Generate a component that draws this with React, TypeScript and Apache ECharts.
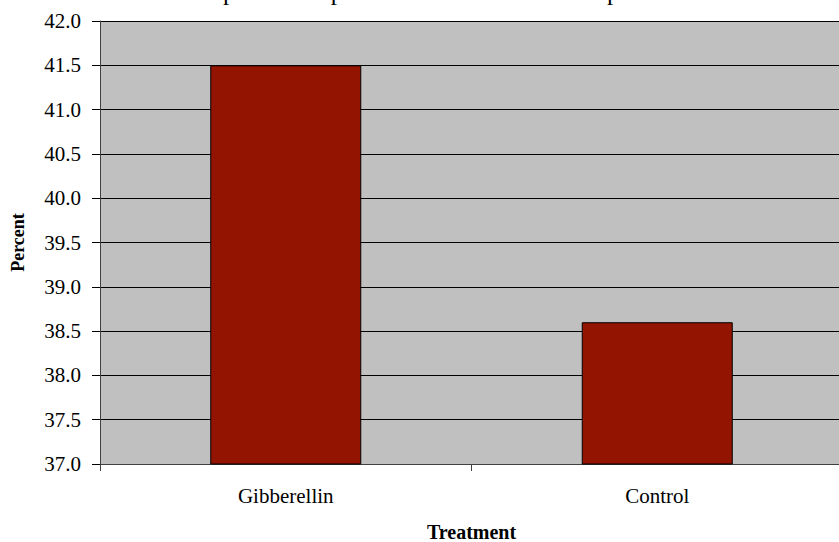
import React, { useEffect, useRef } from "react";
import * as echarts from "echarts";

const categories = ["Gibberellin", "Control"];
const percentValues = [41.5, 38.6];
const yTicks = ["37.0", "37.5", "38.0", "38.5", "39.0", "39.5", "40.0", "40.5", "41.0", "41.5", "42.0"];
const titleText = "Comparison of percent of seeds that have sprouted";

const FONT = "Liberation Serif";

export default function App() {
  const ref = useRef<HTMLDivElement>(null);
  useEffect(() => {
    if (!ref.current) return;
    const chart = echarts.init(ref.current, null, { renderer: "svg" });
    chart.setOption({
      animation: false,
      backgroundColor: "#ffffff",
      textStyle: { fontFamily: FONT },
      graphic: [
        {
          type: "text",
          x: 174,
          y: -7,
          scaleX: 1.26,
          scaleY: 1,
          silent: true,
          style: {
            text: titleText,
            font: "20px Liberation Serif",
            fill: "#000",
            textAlign: "left",
            textVerticalAlign: "middle",
          },
        },
      ],
      grid: {
        left: 100,
        top: 21,
        bottom: 78,
        right: 0,
        outerBoundsMode: "none",
        containLabel: false,
        show: true,
        backgroundColor: "#c0c0c0",
        borderWidth: 0,
      },
      xAxis: {
        type: "category",
        data: categories,
        name: "Treatment",
        nameLocation: "middle",
        nameGap: 58,
        nameTextStyle: { fontFamily: FONT, fontSize: 20, fontWeight: "bold", color: "#000", lineHeight: 20 },
        axisLine: { show: true, lineStyle: { color: "#404040", width: 1 } },
        axisTick: { show: true, length: 7, alignWithLabel: false, lineStyle: { color: "#404040" } },
        axisLabel: { fontFamily: FONT, fontSize: 21, color: "#000", margin: 21 },
        splitLine: { show: false },
      },
      yAxis: {
        type: "value",
        min: 37,
        max: 42,
        interval: 0.5,
        name: "Percent",
        nameLocation: "middle",
        nameGap: 73,
        nameRotate: 90,
        nameTextStyle: { fontFamily: FONT, fontSize: 18, fontWeight: "bold", color: "#000" },
        axisLine: { show: true, lineStyle: { color: "#404040", width: 1 } },
        axisTick: { show: true, length: 8, inside: false, lineStyle: { color: "#000" } },
        axisLabel: {
          fontFamily: FONT,
          fontSize: 21,
          color: "#000",
          margin: 19,
          formatter: (v: number) => yTicks[Math.round((v - 37) / 0.5)] ?? v.toFixed(1),
        },
        splitLine: { show: true, lineStyle: { color: "#000", width: 1 } },
      },
      series: [
        {
          type: "bar",
          data: percentValues,
          barWidth: 151,
          itemStyle: { color: "#931400", borderColor: "#000", borderWidth: 1 },
        },
      ],
    });
    return () => chart.dispose();
  }, []);
  return (
    <div style={{ position: "absolute", left: 0, top: 0, width: 839, height: 542, overflow: "hidden" }}>
      <div ref={ref} style={{ width: 843, height: 542 }} />
    </div>
  );
}
